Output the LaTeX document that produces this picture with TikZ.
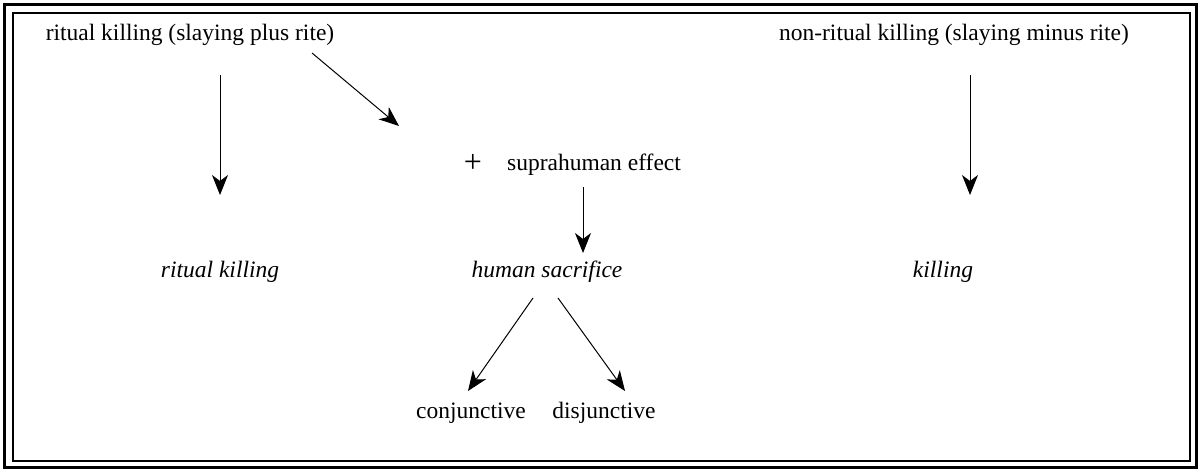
\documentclass[tikz,border=0pt]{standalone}
\usepackage{fontspec}
\setmainfont{Liberation Serif}
\usetikzlibrary{arrows.meta}
\begin{document}
\begin{tikzpicture}[x=1pt,y=-1pt,
  lbl/.style={inner sep=1pt,font=\fontsize{23.5}{28}\selectfont},
  ilbl/.style={lbl,font=\fontsize{23.5}{28}\selectfont\itshape},
  arr/.style={line width=1pt,-{Stealth[length=20pt,width=16pt,inset=6pt]}}]
\useasboundingbox (0,0) rectangle (1201,471);
\draw[line width=3pt] (4,4) rectangle (1196,467);
\draw[line width=1.3pt] (13,13) rectangle (1190,461);
\node[lbl] (rk) at (190,35) {ritual killing (slaying plus rite)};
\node[lbl] (nrk) at (954,35) {non-ritual killing (slaying minus rite)};
\node[lbl,font=\fontsize{32}{36}\selectfont] (plus) at (473,163) {+};
\node[lbl] (sup) at (594,165) {suprahuman effect};
\node[ilbl] (rk2) at (220,272) {ritual killing};
\node[ilbl] (hs) at (547,272) {human sacrifice};
\node[ilbl] (k) at (943,272) {killing};
\node[lbl] (conj) at (471,413) {conjunctive};
\node[lbl] (disj) at (604,413) {disjunctive};
\coordinate (a1s) at (220,75);
\coordinate (a1e) at (220,195);
\coordinate (a2s) at (312,53);
\coordinate (a2e) at (399,126);
\coordinate (a3s) at (583,187);
\coordinate (a3e) at (583,253);
\coordinate (a4s) at (970,75);
\coordinate (a4e) at (970,195);
\coordinate (a5s) at (533,298);
\coordinate (a5e) at (468,391);
\coordinate (a6s) at (558,298);
\coordinate (a6e) at (625,391);
\draw[arr] (a1s) -- (a1e);
\draw[arr] (a2s) -- (a2e);
\draw[arr] (a3s) -- (a3e);
\draw[arr] (a4s) -- (a4e);
\draw[arr] (a5s) -- (a5e);
\draw[arr] (a6s) -- (a6e);
\end{tikzpicture}
\end{document}
